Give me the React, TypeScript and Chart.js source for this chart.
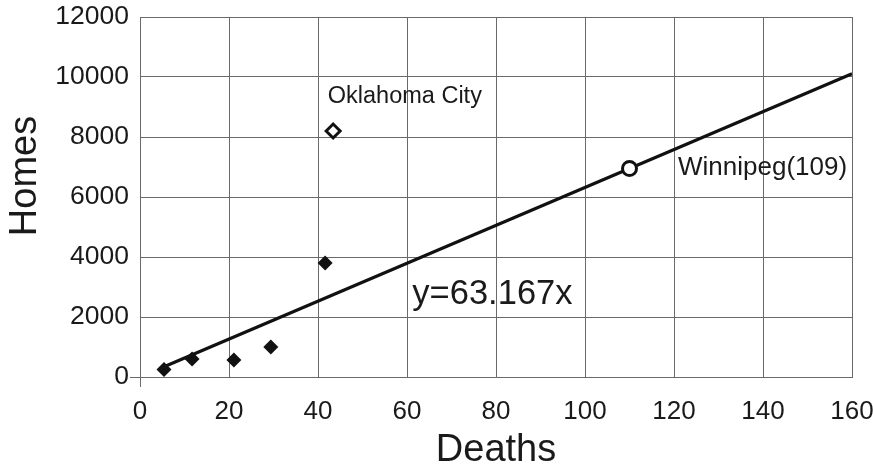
import React, { useEffect, useRef } from "react";
import { Chart, registerables } from "chart.js";

Chart.register(...registerables);

// Data
const deathsX = [5.4, 11.7, 21.1, 29.4, 41.6];
const homesY = [250, 600, 570, 1000, 3800];
const okcX = [43.4];
const okcY = [8200];
const winnipegX = [110];
const winnipegY = [6950];
const trendX = [5, 160];
const trendY = [316, 10107];
const xTicks = [0, 20, 40, 60, 80, 100, 120, 140, 160];
const yTicks = [0, 2000, 4000, 6000, 8000, 10000, 12000];
const xTitle = "Deaths";
const yTitle = "Homes";

// Text annotations anchored at data coordinates
const noteTexts = ["Oklahoma City", "y=63.167x", "Winnipeg(109)"];
const noteX = [42.2, 61.2, 120.9];
const noteY = [9333, 2767, 6967];
const noteSizes = [23.5, 34.5, 26];

const FONT = "'Liberation Sans', Arial, Helvetica, sans-serif";
const TEXT = "#1a1a1a";
const GRID = "#6a6a6a";

const toPts = (xs: number[], ys: number[]) => xs.map((x, i) => ({ x, y: ys[i] }));

const notesPlugin = {
  id: "notes",
  afterDatasetsDraw(chart: any) {
    const { ctx, scales, chartArea } = chart;
    ctx.save();
    ctx.fillStyle = TEXT;
    ctx.textAlign = "left";
    ctx.textBaseline = "middle";
    noteTexts.forEach((t, i) => {
      ctx.font = `${noteSizes[i]}px ${FONT}`;
      ctx.fillText(t, scales.x.getPixelForValue(noteX[i]), scales.y.getPixelForValue(noteY[i]));
    });
    // vertical axis title
    ctx.font = `38px ${FONT}`;
    ctx.textAlign = "center";
    ctx.translate(26, (chartArea.top + chartArea.bottom) / 2 - 21);
    ctx.rotate(-Math.PI / 2);
    ctx.fillText(yTitle, 0, 0);
    ctx.restore();
  },
};

export default function App() {
  const ref = useRef<HTMLCanvasElement | null>(null);
  useEffect(() => {
    if (!ref.current) return;
    const chart = new Chart(ref.current, {
      type: "scatter",
      data: {
        datasets: [
          {
            label: "Winnipeg",
            data: toPts(winnipegX, winnipegY),
            pointStyle: "circle",
            pointRadius: 7,
            pointBorderWidth: 3,
            pointBackgroundColor: "#ffffff",
            pointBorderColor: "#111111",
            order: 0,
          },
          {
            type: "line",
            label: "Trend",
            data: toPts(trendX, trendY),
            borderColor: "#111111",
            borderWidth: 3.2,
            pointRadius: 0,
            fill: false,
            order: 1,
          } as any,
          {
            label: "Oklahoma City",
            data: toPts(okcX, okcY),
            pointStyle: "rectRot",
            pointRadius: 7,
            pointBorderWidth: 3,
            pointBackgroundColor: "#ffffff",
            pointBorderColor: "#111111",
            order: 1,
          },
          {
            label: "Cities",
            data: toPts(deathsX, homesY),
            pointStyle: "rectRot",
            pointRadius: 7.5,
            pointBorderWidth: 0,
            pointBackgroundColor: "#111111",
            pointBorderColor: "#111111",
            order: 2,
          },
        ],
      },
      options: {
        animation: false,
        responsive: false,
        maintainAspectRatio: false,
        layout: { padding: { left: 0, right: 21, top: 17, bottom: 0 } },
        plugins: { legend: { display: false }, tooltip: { enabled: false } },
        scales: {
          x: {
            type: "linear",
            min: 0,
            max: 160,
            afterBuildTicks: (s: any) => {
              s.ticks = xTicks.map((v) => ({ value: v }));
            },
            afterFit: (s: any) => {
              s.height = 93;
              s.paddingLeft = 0;
              s.paddingRight = 0;
            },
            grid: {
              color: GRID,
              lineWidth: 1,
              tickLength: 10,
              tickColor: (c: any) => (c.index === 0 ? GRID : "rgba(0,0,0,0)"),
            },
            border: { color: GRID, width: 1 },
            ticks: {
              color: TEXT,
              font: { family: FONT, size: 26 },
              padding: 9,
              maxRotation: 0,
              autoSkip: false,
              callback: (v: any) => String(v),
            },
            title: {
              display: true,
              text: xTitle,
              color: TEXT,
              font: { family: FONT, size: 38 },
              padding: { top: 0, bottom: -3 },
            },
          },
          y: {
            type: "linear",
            min: 0,
            max: 12000,
            afterBuildTicks: (s: any) => {
              s.ticks = yTicks.map((v) => ({ value: v }));
            },
            afterFit: (s: any) => {
              s.width = 140;
              s.paddingTop = 0;
              s.paddingBottom = 0;
            },
            grid: {
              color: GRID,
              lineWidth: 1,
              tickLength: 10,
              tickColor: (c: any) => (c.index === 0 ? GRID : "rgba(0,0,0,0)"),
            },
            border: { color: GRID, width: 1 },
            ticks: {
              color: TEXT,
              font: { family: FONT, size: 26.5 },
              padding: 1,
              autoSkip: false,
              callback: (v: any) => String(v),
            },
            title: { display: false },
          },
        },
      },
      plugins: [notesPlugin],
    });
    return () => chart.destroy();
  }, []);
  return (
    <div style={{ position: "absolute", left: 0, top: 0, width: 873, height: 470, background: "#fff" }}>
      <canvas ref={ref} width={873} height={470} />
    </div>
  );
}
